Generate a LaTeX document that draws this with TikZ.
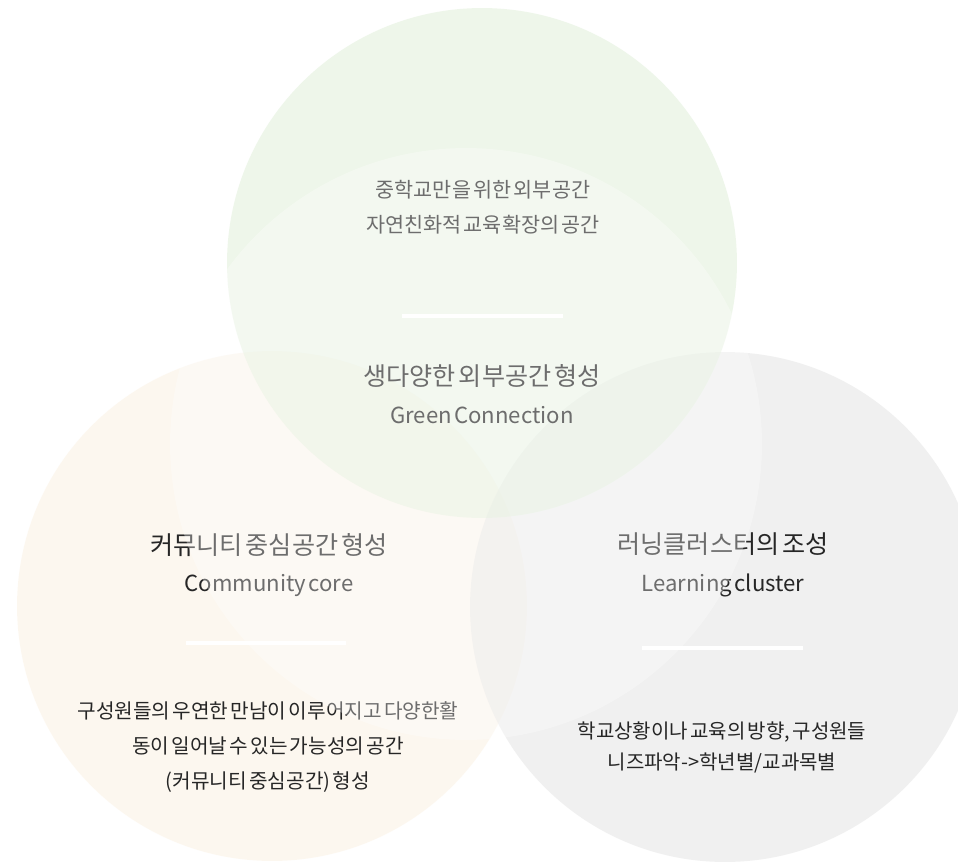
\documentclass[tikz,border=0pt]{standalone}
\usepackage{fontspec}
\usepackage{tikz}
\usetikzlibrary{positioning}
\newfontfamily\krfont{Noto Sans CJK KR}
\newfontfamily\krtight{Noto Sans CJK KR}[WordSpace=0.5]
\newcommand\enline{\fontsize{12.6}{21.5}\selectfont}
\definecolor{leafgreen}{RGB}{222,238,214}
\definecolor{sandorange}{RGB}{251,241,225}
\definecolor{stonegray}{RGB}{226,226,226}
\definecolor{inktext}{RGB}{38,38,38}

\begin{document}
\begin{tikzpicture}[x=0.02cm, y=-0.02cm,
  zone/.style={circle, inner sep=0pt, minimum size=10.2cm, fill opacity=0.5},
  title/.style={align=center, text=inktext,
                font=\krfont\fontsize{14.3}{21.5}\selectfont},
  note/.style={align=center, text=inktext,
               font=\krtight\fontsize{11.5}{20}\selectfont},
  rule/.style={draw=white, line width=2.3pt}]

  \useasboundingbox (0,0) rectangle (958,863);
  \fill[white] (0,0) rectangle (958,863);

  % three zones
  \node[zone, fill=sandorange] (community) at (272,606) {};
  \node[zone, fill=stonegray] (learning) at (725,607) {};
  \node[zone, fill=leafgreen] (green) at (482,263) {};

  % green zone
  \node[note, font=\krfont\fontsize{11.8}{19.8}\selectfont] (greennote) at (483,207)
    {중학교만을 위한 외부공간\\자연친화적 교육확장의 공간};
  \node[title] (greentitle) at (482,394) {생다양한 외부공간 형성\\\enline Green Connection};

  % community zone
  \node[title] (commtitle) at (269,565) {커뮤니티 중심공간 형성\\\enline Community core};
  \node[note] (commnote) at (268,747)
    {구성원들의 우연한 만남이 이루어지고 다양한활\\동이 일어날 수 있는 가능성의 공간\\(커뮤니티 중심공간) 형성};

  % learning zone
  \node[title] (learntitle) at (723,565) {러닝클러스터의 조성\\\enline Learning cluster};
  \node[note, font=\krtight\fontsize{11.4}{17.6}\selectfont] (learnnote) at (722,747)
    {학교상황이나 교육의 방향, 구성원들\\니즈파악->학년별/교과목별};

  % white haze over the middle
  \node[circle, inner sep=0pt, minimum size=11.84cm, fill=white,
        fill opacity=0.33] (haze) at (466,444) {};

  % separators
  \coordinate (gl) at (402,316);  \coordinate (gr) at (563,316);
  \coordinate (cl) at (186,643);  \coordinate (cr) at (346,643);
  \coordinate (ll) at (642,648);  \coordinate (lr) at (803,648);
  \draw[rule] (gl) -- (gr);
  \draw[rule] (cl) -- (cr);
  \draw[rule] (ll) -- (lr);
\end{tikzpicture}
\end{document}
